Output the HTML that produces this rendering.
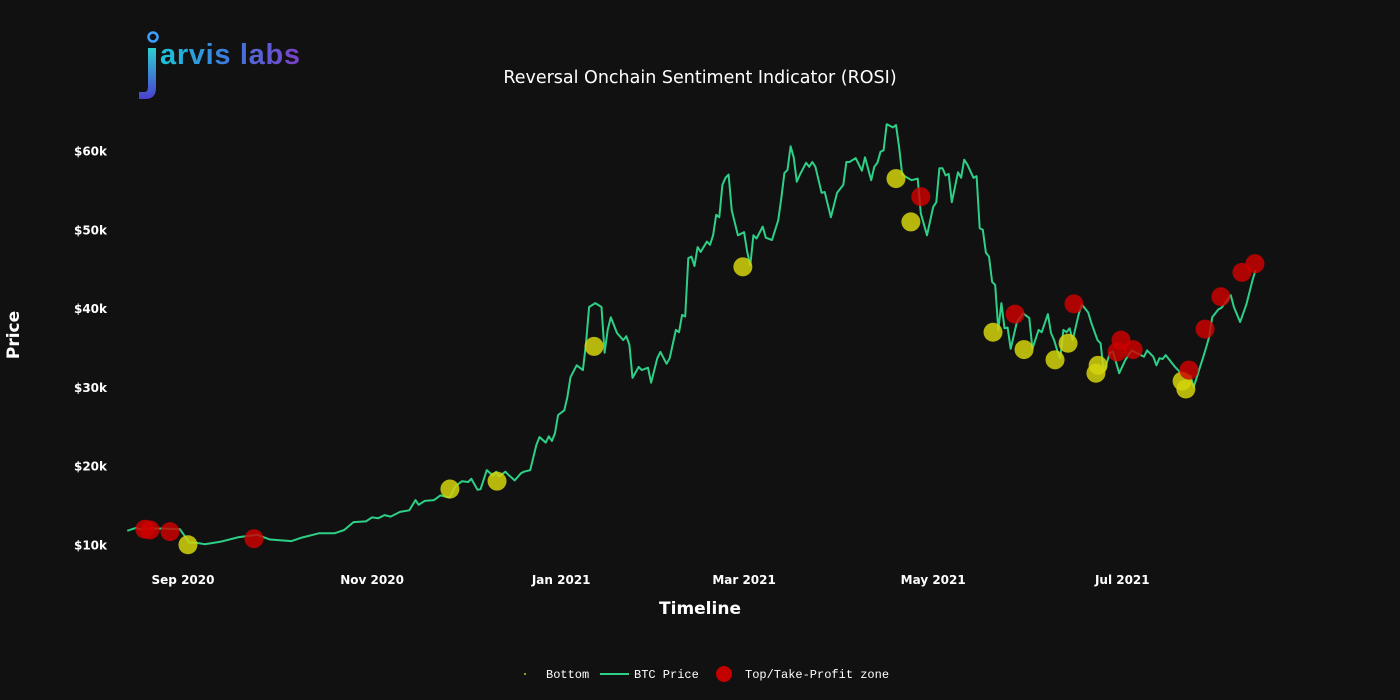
<!DOCTYPE html>
<html><head><meta charset="utf-8"><style>
html,body{margin:0;padding:0;background:#111111;width:1400px;height:700px;overflow:hidden}
svg text{font-family:"DejaVu Sans","Liberation Sans",sans-serif}
</style></head><body>
<svg id="chart" width="1400" height="700" viewBox="0 0 1400 700" xmlns="http://www.w3.org/2000/svg">
<defs>
<linearGradient id="lg" x1="0" x2="1" y1="0" y2="0"><stop offset="0" stop-color="#19c6d8"/><stop offset="0.45" stop-color="#3b7fe0"/><stop offset="1" stop-color="#7b3fc8"/></linearGradient>
<linearGradient id="jg" x1="0" x2="0" y1="0" y2="1"><stop offset="0" stop-color="#2cd0d0"/><stop offset="1" stop-color="#4b3fd0"/></linearGradient>
</defs>
<rect width="1400" height="700" fill="#111111"/>
<g>
<circle cx="153" cy="37" r="4.5" fill="none" stroke="#3aa0ff" stroke-width="2.5"/>
<path d="M148 48 L156 48 L156 88 Q156 99 145 99 L139 99 L139 92 L145 92 Q148 92 148 86 Z" fill="url(#jg)"/>
<text x="160" y="64" font-size="29" font-weight="bold" fill="url(#lg)" style="font-family:'Liberation Sans',sans-serif" textLength="140">arvis labs</text>
</g>
<text x="700" y="83" text-anchor="middle" font-size="17.5" fill="#ffffff">Reversal Onchain Sentiment Indicator (ROSI)</text>
<g id="yticks"></g>
<g id="xticks"></g>
<text transform="translate(19,335) rotate(-90)" text-anchor="middle" font-size="17" font-weight="bold" fill="#ffffff">Price</text>
<text x="700" y="614" text-anchor="middle" font-size="17" font-weight="bold" fill="#ffffff">Timeline</text>
<g id="plot"></g>
<g>
<g><circle cx="525" cy="674" r="1" fill="#c8c810"/><text x="546" y="678" font-size="12" fill="#ffffff" style="font-family:'Courier New','Liberation Mono',monospace">Bottom</text></g>
<g><line x1="600" y1="674" x2="629" y2="674" stroke="#2ecf86" stroke-width="2"/><text x="634" y="678" font-size="12" fill="#ffffff" style="font-family:'Courier New','Liberation Mono',monospace">BTC Price</text></g>
<g><circle cx="724" cy="674" r="8" fill="#c40000"/><text x="745" y="678" font-size="12" fill="#ffffff" style="font-family:'Courier New','Liberation Mono',monospace">Top/Take-Profit zone</text></g>
</g>
</svg>
<script>
// days since 2020-09-01, prices in $k
const priceDays=[-18,-15,-14,-7,-1,1,2,4,7,12,18,24,28,35,38,44,49,52,55,59,61,63,65,67,70,73,75,76,78,81,83,86,88,90,92,93,95,96,98,100,101,102,104,105,107,109,110,112,114,115,117,118,119,120,121,123,124,125,127,129,130,131,133,135,136,137,138,140,142,143,144,145,147,148,150,151,153,154,156,157,159,160,161,162,163,164,165,166,167,169,170,171,172,173,174,175,176,177,179,181,182,183,184,185,187,188,190,192,193,194,195,196,197,198,199,201,202,203,204,206,207,209,211,213,214,215,217,219,220,222,223,224,225,226,227,229,230,231,232,235,237,238,240,242,243,244,245,246,247,248,250,251,252,253,255,256,257,258,259,260,261,262,263,264,265,266,267,269,271,273,274,276,277,279,280,281,282,283,284,285,286,287,289,290,292,293,295,296,297,298,299,300,302,304,306,310,311,313,314,315,316,317,319,320,322,324,325,326,328,329,330,331,332,334,335,338,339,341,343,345,346];
const priceValues=[11.8,12.2,12.0,12.1,12.0,10.9,10.3,10.3,10.1,10.4,11.0,11.3,10.7,10.5,10.9,11.5,11.5,11.9,12.9,13.0,13.5,13.4,13.8,13.6,14.2,14.4,15.7,15.1,15.6,15.7,16.3,16.0,17.5,18.1,18.0,18.4,17.0,17.1,19.5,18.8,19.3,18.7,19.3,18.9,18.2,19.1,19.3,19.5,22.7,23.7,23.0,23.8,23.2,24.2,26.5,27.1,28.8,31.3,32.8,32.2,35.6,40.2,40.7,40.2,34.4,37.3,38.9,36.9,36.0,36.5,35.4,31.2,32.6,32.2,32.5,30.6,33.7,34.5,33.0,33.7,37.3,37.0,39.2,39.0,46.4,46.6,45.4,47.8,47.2,48.5,48.1,49.3,51.9,51.6,55.7,56.6,57.0,52.5,49.3,49.7,47.2,45.5,49.3,48.9,50.4,49.0,48.7,51.2,54.0,57.2,57.6,60.6,59.2,56.1,57.0,58.5,58.0,58.6,58.0,54.7,54.8,51.6,54.7,55.7,58.6,58.6,59.1,57.5,59.2,56.3,58.0,58.5,59.9,60.1,63.4,63.0,63.3,60.5,57.0,56.3,56.5,52.1,49.3,52.9,53.5,57.8,57.8,56.9,57.1,53.5,57.3,56.6,58.9,58.3,56.6,56.8,50.2,50.0,47.1,46.6,43.4,43.0,37.3,40.7,37.5,37.6,34.9,38.3,39.4,38.8,34.9,37.3,37.0,39.3,36.9,36.0,34.7,33.7,37.3,37.0,37.5,36.0,39.4,40.5,39.5,38.2,36.0,35.6,32.0,33.1,34.4,34.5,31.8,33.5,34.7,33.9,34.7,33.9,32.8,33.7,33.6,34.1,33.1,32.6,31.8,31.3,31.5,30.0,32.5,33.7,35.0,36.4,38.9,39.9,40.1,41.7,40.2,38.3,40.5,43.6,44.9,45.3,45.9];
const bottomDays=[1.6,86.1,101.3,132.6,180.6,230,234.8,261.3,271.3,281.3,285.5,294.5,295.2,322.3,323.5];
const bottomValues=[10.03,17.1,18.1,35.2,45.3,56.5,51.0,37.0,34.8,33.5,35.6,31.8,32.8,30.8,29.8];
const topDays=[-12.3,-10.6,-4.2,22.9,238,268.4,287.4,301.3,302.6,306.5,324.5,329.7,334.8,341.6,345.8];
const topValues=[12.0,11.9,11.7,10.8,54.2,39.3,40.6,34.5,36.0,34.8,32.2,37.4,41.5,44.6,45.7];
const yTickValues=[10,20,30,40,50,60];
const yTickLabels=["$10k","$20k","$30k","$40k","$50k","$60k"];
const xTickDays=[0,61,122,181,242,303];
const xTickLabels=["Sep 2020","Nov 2020","Jan 2021","Mar 2021","May 2021","Jul 2021"];

const NS="http://www.w3.org/2000/svg";
function xs(d){return 183+d*3.1;}
function ys(v){return 545-(v-10)*7.88;}
function mk(tag,attrs,parent){const e=document.createElementNS(NS,tag);for(const k in attrs)e.setAttribute(k,attrs[k]);parent.appendChild(e);return e;}

const yg=document.getElementById('yticks');
yTickValues.forEach((v,i)=>{
  const t=mk('text',{x:107,y:ys(v)+4.5,'text-anchor':'end','font-size':12,'font-weight':'bold',fill:'#ffffff'},yg);
  t.textContent=yTickLabels[i];
  
  
});
const xg=document.getElementById('xticks');
xTickDays.forEach((d,i)=>{
  const t=mk('text',{x:xs(d),y:584,'text-anchor':'middle','font-size':12,'font-weight':'bold',fill:'#ffffff'},xg);
  t.textContent=xTickLabels[i];
  
  
});
const plot=document.getElementById('plot');
const pts=priceDays.map((d,i)=>xs(d).toFixed(1)+','+ys(priceValues[i]).toFixed(1)).join(' ');
const line=mk('polyline',{points:pts,fill:'none',stroke:'#2ecf86','stroke-width':2,'stroke-linejoin':'round'},plot);


bottomDays.forEach((d,i)=>{
  const c=mk('circle',{cx:xs(d),cy:ys(bottomValues[i]),r:9.5,fill:'#d4d40c','fill-opacity':0.85},plot);
  
  
});
topDays.forEach((d,i)=>{
  const c=mk('circle',{cx:xs(d),cy:ys(topValues[i]),r:9.5,fill:'#d00000','fill-opacity':0.82},plot);
  
  
});
</script>
</body></html>
